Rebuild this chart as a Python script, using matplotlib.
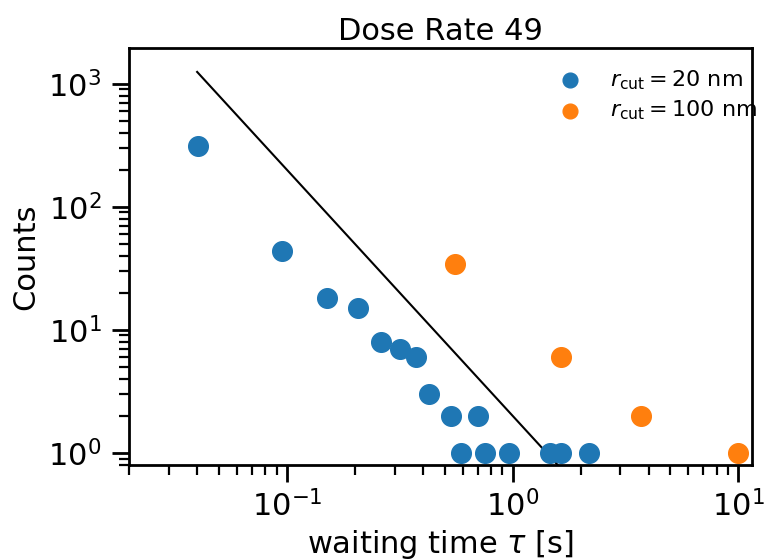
import matplotlib
matplotlib.use("Agg")
import matplotlib.pyplot as plt
import numpy as np

tau_20 = [0.0403, 0.095, 0.150, 0.206, 0.261, 0.317, 0.373, 0.426, 0.533, 0.591, 0.703, 0.755, 0.96, 1.46, 1.64, 2.18]
cnt_20 = [313, 44, 18, 15, 8, 7, 6, 3, 2, 1, 2, 1, 1, 1, 1, 1]
tau_100 = [0.556, 1.63, 3.72, 10.0]
cnt_100 = [34, 6, 2, 1]
fit_x = [0.04, 10.0]
fit_amp = 2.0
fit_exp = -2.0

fig = plt.figure(figsize=(7.69, 5.6), dpi=100)
ax = fig.add_axes([0.168, 0.170, 0.810, 0.744])
ax.scatter(tau_20, cnt_20, s=200, color='#1f77b4', label=r'$r_{\rm cut} = 20$ nm', zorder=3)
ax.scatter(tau_100, cnt_100, s=200, color='#ff7f0e', label=r'$r_{\rm cut} = 100$ nm', zorder=3)
fx = np.array(fit_x)
ax.plot(fx, fit_amp * fx ** fit_exp, color='black', lw=1.5)
ax.set_xscale('log')
ax.set_yscale('log')
ax.set_xlim(0.02, 11.5)
ax.set_ylim(0.8, 1950)
ax.set_xlabel(r'waiting time $\tau$ [s]', fontsize=22, labelpad=4)
ax.set_ylabel('Counts', fontsize=22, labelpad=6)
ax.set_title('Dose Rate 49', fontsize=22, pad=6)
for s in ax.spines.values():
    s.set_linewidth(2.0)
ax.tick_params(which='major', length=12, width=2.0, labelsize=22)
ax.tick_params(axis='y', which='major', pad=8)
ax.tick_params(axis='x', which='major', pad=6)
ax.tick_params(which='minor', length=7, width=1.6)
leg = ax.legend(loc='upper right', bbox_to_anchor=(1.04, 1.0), frameon=False,
                fontsize=16, markerscale=0.75, labelspacing=0.3)
fig.savefig('out.png', dpi=100)
